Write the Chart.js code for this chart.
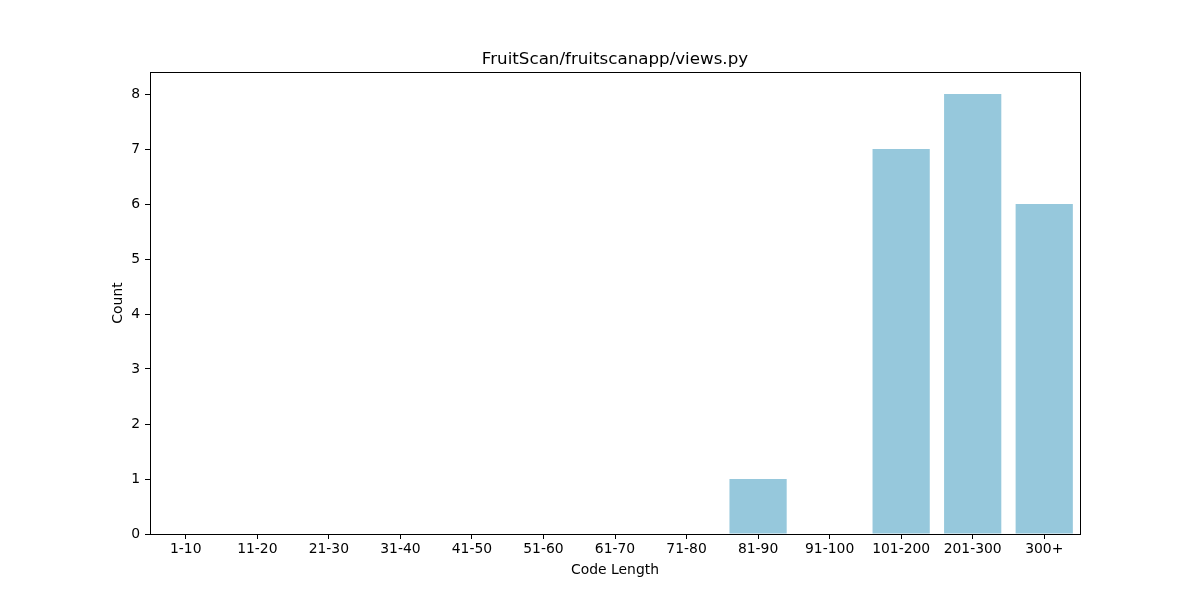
<!DOCTYPE html>
<html>
<head>
<meta charset="utf-8">
<script src="https://cdn.jsdelivr.net/npm/chart.js@4"></script>
<style>
    html, body { margin: 0; padding: 0; background: #ffffff; }
    #wrap { width: 1200px; height: 600px; }
</style>
</head>
<body>
<div id="wrap"><canvas id="lengthChart" width="1200" height="600"></canvas></div>
<script>
const chartTitle = "FruitScan/fruitscanapp/views.py";
const categories = ["1-10", "11-20", "21-30", "31-40", "41-50", "51-60", "61-70", "71-80", "81-90", "91-100", "101-200", "201-300", "300+"];
const counts = [0, 0, 0, 0, 0, 0, 0, 0, 1, 0, 7, 8, 6];
const yTicks = [0, 1, 2, 3, 4, 5, 6, 7, 8];

const textFont = { family: "DejaVu Sans", size: 13.9 };

// matplotlib style box around the plot, title centred over the plot area
const frameBox = {
    id: "frameBox",
    afterDraw(chart) {
        const { ctx, chartArea: a } = chart;
        ctx.save();
        ctx.strokeStyle = "#000000";
        ctx.lineWidth = 1;
        ctx.strokeRect(Math.round(a.left) + 0.5, Math.round(a.top) + 0.5,
            Math.round(a.right - a.left), Math.round(a.bottom - a.top));
        ctx.fillStyle = "#000000";
        ctx.font = "16.7px 'DejaVu Sans'";
        ctx.textAlign = "center";
        ctx.textBaseline = "middle";
        ctx.fillText(chartTitle, (a.left + a.right) / 2, a.top - 12);
        ctx.restore();
    }
};

new Chart(document.getElementById("lengthChart"), {
    type: "bar",
    data: {
        labels: categories,
        datasets: [{
            data: counts,
            backgroundColor: "#96c8dc",
            borderWidth: 0,
            categoryPercentage: 1,
            barPercentage: 0.8
        }]
    },
    options: {
        responsive: false,
        animation: false,
        layout: { padding: { left: 110, right: 120, top: 72, bottom: 21 } },
        plugins: {
            legend: { display: false },
            tooltip: { enabled: false },
            title: { display: false }
        },
        scales: {
            x: {
                grid: { display: true, offset: false, drawOnChartArea: false, tickLength: 5, color: "#000000" },
                border: { display: false },
                ticks: { color: "#000000", font: textFont, padding: 2, maxRotation: 0, autoSkip: false },
                title: { display: true, text: "Code Length", color: "#000000", font: textFont, padding: { top: 2, bottom: 0 } },
                afterFit: s => { s.height = 45; }
            },
            y: {
                min: 0,
                max: 8.4,
                grid: { display: true, drawOnChartArea: false, tickLength: 5, color: "#000000" },
                border: { display: false },
                afterBuildTicks: s => { s.ticks = yTicks.map(v => ({ value: v })); },
                ticks: { color: "#000000", font: textFont, padding: 5 },
                title: { display: true, text: "Count", color: "#000000", font: textFont, padding: 0 },
                afterFit: s => { s.width = 40; }
            }
        }
    },
    plugins: [frameBox]
});
</script>
</body>
</html>
